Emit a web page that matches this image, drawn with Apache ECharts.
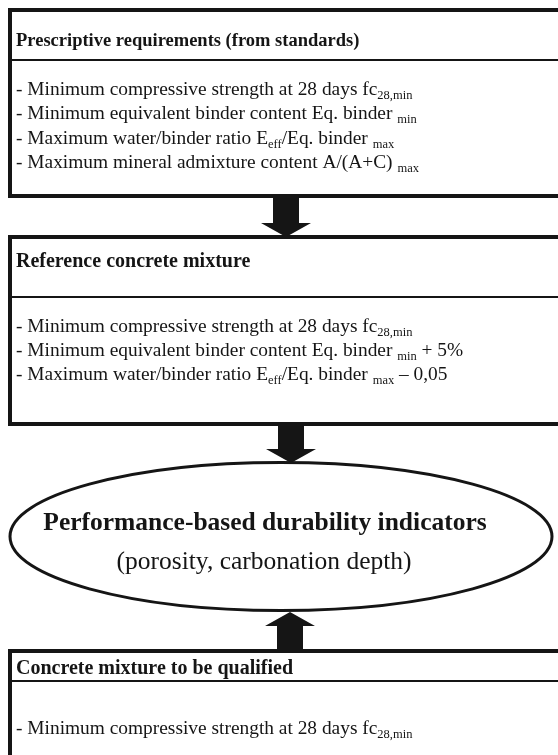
<!DOCTYPE html>
<html>
<head>
<meta charset="utf-8">
<script src="https://cdn.jsdelivr.net/npm/echarts@6/dist/echarts.min.js"></script>
<style>
html,body{margin:0;padding:0;background:#fff;}
#chart{width:558px;height:755px;}
</style>
</head>
<body>
<div id="chart"></div>
<script>
// ---- content ----
const box1Title = 'Prescriptive requirements (from standards)';
const box1Lines = [
  '- Minimum compressive strength at 28 days fc{sub|28,min}',
  '- Minimum equivalent binder content Eq. binder {sub|min}',
  '- Maximum water/binder ratio E{sub|eff}/Eq. binder {sub|max}',
  '- Maximum mineral admixture content A/(A+C) {sub|max}'
];
const box2Title = 'Reference concrete mixture';
const box2Lines = [
  '- Minimum compressive strength at 28 days fc{sub|28,min}',
  '- Minimum equivalent binder content Eq. binder {sub|min} + 5%',
  '- Maximum water/binder ratio E{sub|eff}/Eq. binder {sub|max} \u2013 0,05'
];
const ovalTitle = 'Performance-based durability indicators';
const ovalSubtitle = '(porosity, carbonation depth)';
const box3Title = 'Concrete mixture to be qualified';
const box3Lines = [
  '- Minimum compressive strength at 28 days fc{sub|28,min}'
];

// ---- layout ----
const FONT = "'Liberation Serif', 'Times New Roman', serif";
const INK = '#151515';
const textX = 16;
const rich = { sub: { fontSize: 12.5, fontFamily: FONT, fill: INK, padding: [12, 0, 0, 0] } };

function box(top, bottom, divider, titleMid, titleSize, title, lineStart, lineStep, lines) {
  const els = [
    { type: 'rect', shape: { x: 10, y: top, width: 600, height: bottom - top },
      style: { fill: '#fff', stroke: INK, lineWidth: 4 } },
    { type: 'line', shape: { x1: 10, y1: divider, x2: 600, y2: divider },
      style: { stroke: INK, lineWidth: 2.2 } },
    { type: 'text', style: { text: title, x: textX, y: titleMid, fontFamily: FONT,
      fontSize: titleSize, fontWeight: 'bold', fill: INK, verticalAlign: 'middle', align: 'left' } }
  ];
  lines.forEach(function (l, i) {
    els.push({ type: 'text', style: { text: l, x: textX, y: lineStart + i * lineStep,
      fontFamily: FONT, fontSize: 19.4, fill: INK, verticalAlign: 'middle', align: 'left', rich: rich } });
  });
  return els;
}

function arrow(cx, y0, y1, dir) {
  // dir: 1 = pointing down (tip at y1), -1 = pointing up (tip at y0)
  const sw = 13, hw = 25, hh = 14;
  let pts;
  if (dir === 1) {
    pts = [[cx - sw, y0], [cx + sw, y0], [cx + sw, y1 - hh], [cx + hw, y1 - hh], [cx, y1],
           [cx - hw, y1 - hh], [cx - sw, y1 - hh]];
  } else {
    pts = [[cx - sw, y1], [cx + sw, y1], [cx + sw, y0 + hh], [cx + hw, y0 + hh], [cx, y0],
           [cx - hw, y0 + hh], [cx - sw, y0 + hh]];
  }
  return { type: 'polygon', shape: { points: pts }, style: { fill: INK } };
}

let elements = [];
elements = elements.concat(box(10, 196, 60, 41, 18.5, box1Title, 89.5, 24.5, box1Lines));
elements = elements.concat(box(237, 424, 297, 261.5, 20, box2Title, 327, 24, box2Lines));
elements = elements.concat(box(651, 800, 681, 668.5, 20, box3Title, 729, 26, box3Lines));
elements.push(arrow(286, 198, 237, 1));
elements.push(arrow(291, 426, 463, 1));
elements.push(arrow(290, 612, 649, -1));
elements.push({ type: 'ellipse', shape: { cx: 281, cy: 536.5, rx: 271, ry: 74 },
  style: { fill: '#fff', stroke: INK, lineWidth: 3 } });
elements.push({ type: 'text', style: { text: ovalTitle, x: 265, y: 523, fontFamily: FONT,
  fontSize: 25.5, fontWeight: 'bold', fill: INK, align: 'center', verticalAlign: 'middle' } });
elements.push({ type: 'text', style: { text: ovalSubtitle, x: 264, y: 562, fontFamily: FONT,
  fontSize: 25.5, fill: INK, align: 'center', verticalAlign: 'middle' } });

const chart = echarts.init(document.getElementById('chart'), null, { renderer: 'canvas' });
chart.setOption({
  backgroundColor: '#fff',
  animation: false,
  graphic: { elements: elements }
});
</script>
</body>
</html>
